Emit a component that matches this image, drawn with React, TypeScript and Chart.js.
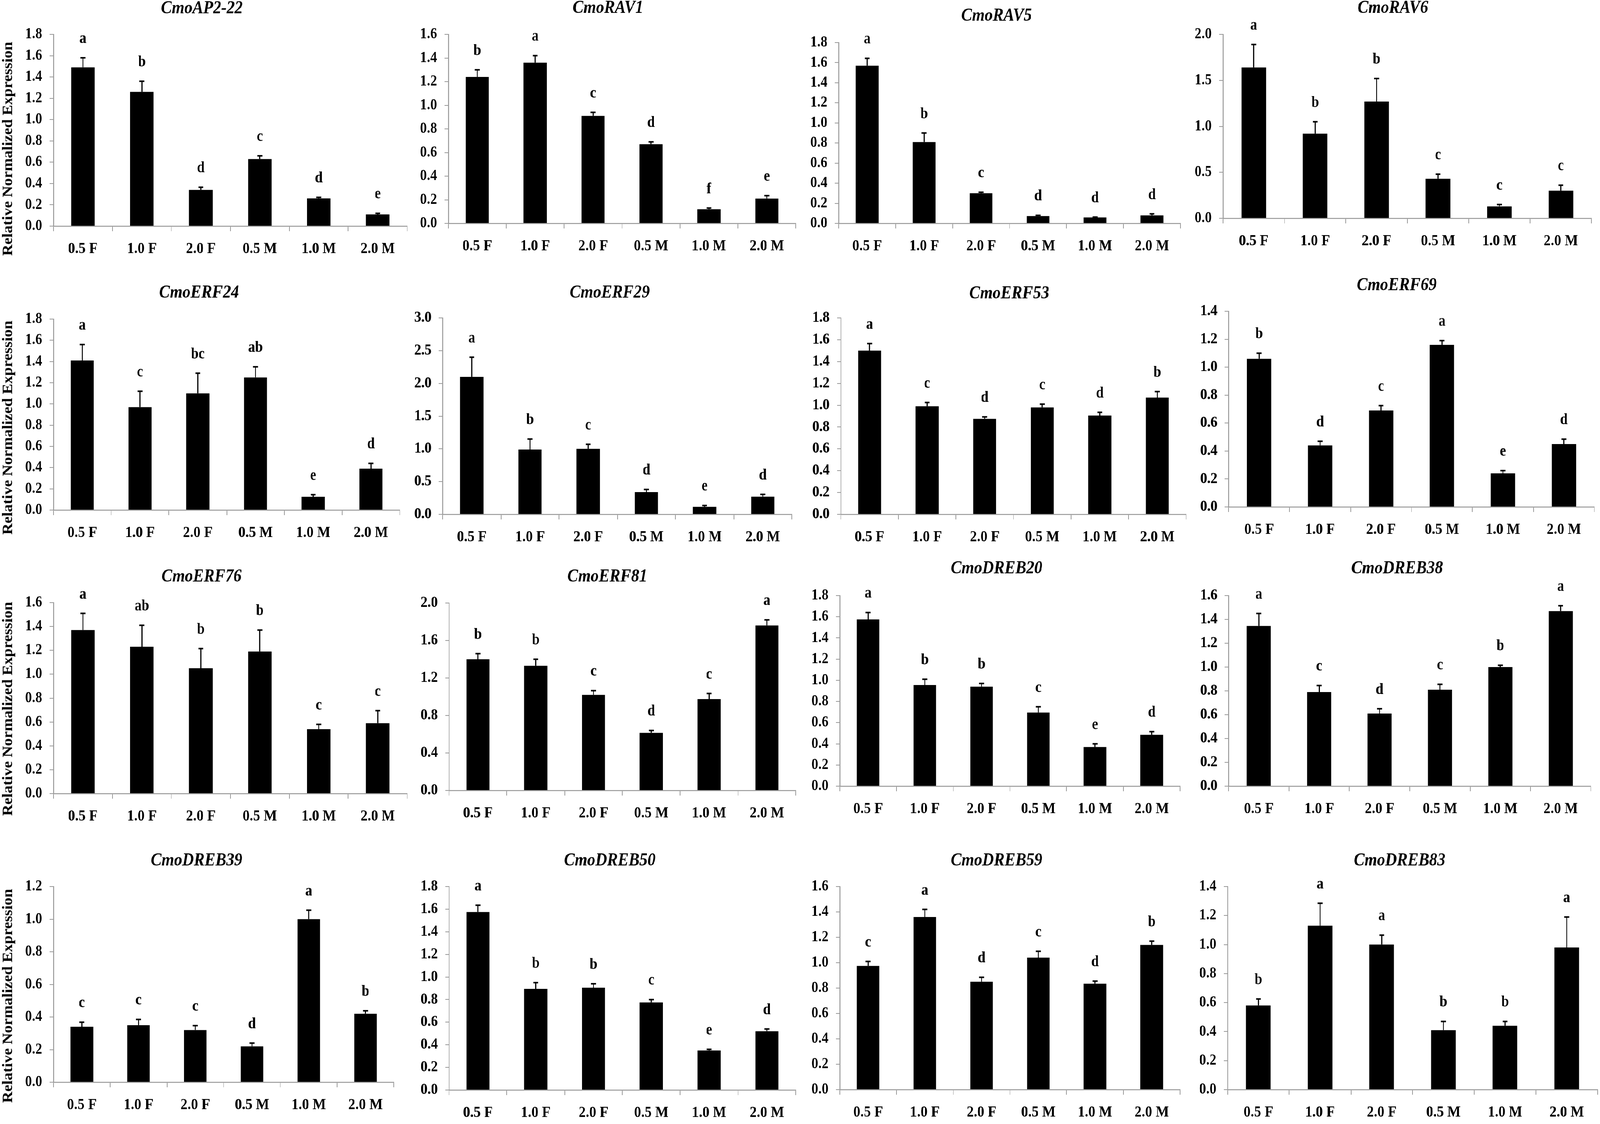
import { useEffect, useRef } from "react";
import { Chart, registerables } from "chart.js";

Chart.register(...registerables);

const PAGE_W = 4550;
const PAGE_H = 2878;
const SERIF = "'Liberation Serif', 'Times New Roman', serif";
const AXIS_GREY = "#999999";

// ---- data ----
const CATEGORIES = ["0.5 F", "1.0 F", "2.0 F", "0.5 M", "1.0 M", "2.0 M"];

const GENES = [
  "CmoAP2-22", "CmoRAV1", "CmoRAV5", "CmoRAV6",
  "CmoERF24", "CmoERF29", "CmoERF53", "CmoERF69",
  "CmoERF76", "CmoERF81", "CmoDREB20", "CmoDREB38",
  "CmoDREB39", "CmoDREB50", "CmoDREB59", "CmoDREB83",
];

const Y_MAX = [1.8, 1.6, 1.8, 2.0, 1.8, 3.0, 1.8, 1.4, 1.6, 2.0, 1.8, 1.6, 1.2, 1.8, 1.6, 1.4];
const Y_STEP = [0.2, 0.2, 0.2, 0.5, 0.2, 0.5, 0.2, 0.2, 0.2, 0.2, 0.2, 0.2, 0.2, 0.2, 0.2, 0.2];

const MEANS = [
  [1.49, 1.26, 0.34, 0.63, 0.26, 0.11],
  [1.24, 1.36, 0.91, 0.67, 0.12, 0.21],
  [1.57, 0.81, 0.3, 0.073, 0.059, 0.08],
  [1.64, 0.92, 1.27, 0.43, 0.13, 0.3],
  [1.41, 0.97, 1.1, 1.25, 0.125, 0.39],
  [2.1, 0.99, 1.0, 0.34, 0.115, 0.27],
  [1.5, 0.99, 0.875, 0.98, 0.905, 1.07],
  [1.06, 0.44, 0.69, 1.16, 0.24, 0.45],
  [1.37, 1.23, 1.05, 1.19, 0.54, 0.59],
  [1.4, 1.33, 1.02, 0.615, 0.975, 1.76],
  [1.575, 0.955, 0.94, 0.695, 0.37, 0.485],
  [1.345, 0.79, 0.61, 0.81, 1.0, 1.47],
  [0.34, 0.35, 0.32, 0.22, 1.0, 0.42],
  [1.575, 0.895, 0.905, 0.775, 0.35, 0.52],
  [0.975, 1.36, 0.85, 1.04, 0.835, 1.14],
  [0.58, 1.13, 1.0, 0.41, 0.44, 0.98],
];

const ERRORS = [
  [0.09, 0.1, 0.025, 0.03, 0.01, 0.01],
  [0.06, 0.06, 0.03, 0.02, 0.01, 0.025],
  [0.073, 0.09, 0.01, 0.007, 0.004, 0.015],
  [0.25, 0.13, 0.25, 0.05, 0.02, 0.06],
  [0.15, 0.15, 0.19, 0.1, 0.02, 0.05],
  [0.3, 0.16, 0.07, 0.04, 0.02, 0.035],
  [0.065, 0.035, 0.018, 0.03, 0.03, 0.055],
  [0.04, 0.03, 0.035, 0.03, 0.02, 0.035],
  [0.14, 0.18, 0.165, 0.18, 0.04, 0.105],
  [0.06, 0.07, 0.045, 0.025, 0.06, 0.06],
  [0.065, 0.055, 0.03, 0.055, 0.03, 0.03],
  [0.105, 0.055, 0.04, 0.045, 0.015, 0.045],
  [0.028, 0.035, 0.027, 0.02, 0.055, 0.018],
  [0.06, 0.055, 0.035, 0.025, 0.01, 0.02],
  [0.035, 0.06, 0.035, 0.05, 0.02, 0.03],
  [0.045, 0.155, 0.065, 0.06, 0.03, 0.21],
];

const LETTERS = [
  ["a", "b", "d", "c", "d", "e"],
  ["b", "a", "c", "d", "f", "e"],
  ["a", "b", "c", "d", "d", "d"],
  ["a", "b", "b", "c", "c", "c"],
  ["a", "c", "bc", "ab", "e", "d"],
  ["a", "b", "c", "d", "e", "d"],
  ["a", "c", "d", "c", "d", "b"],
  ["b", "d", "c", "a", "e", "d"],
  ["a", "ab", "b", "b", "c", "c"],
  ["b", "b", "c", "d", "c", "a"],
  ["a", "b", "b", "c", "e", "d"],
  ["a", "c", "d", "c", "b", "a"],
  ["c", "c", "c", "d", "a", "b"],
  ["a", "b", "b", "c", "e", "d"],
  ["c", "a", "d", "c", "d", "b"],
  ["b", "a", "a", "b", "b", "a"],
];

const Y_LABEL = "Relative Normalized Expression";

// ---- page layout (pixels in the 4550 x 2878 frame) ----
// axis: x of y-axis, top: pixel of y max, base: pixel of 0, right: end of x-axis
const PANELS = [
  { axis: 152, top: 88, base: 579, right: 1158, titleX: 574, titleY: 22, labelY: 638 },
  { axis: 1275, top: 88, base: 572, right: 2263, titleX: 1729, titleY: 21, labelY: 634 },
  { axis: 2385, top: 109, base: 572, right: 3357, titleX: 2834, titleY: 41, labelY: 634 },
  { axis: 3478, top: 88, base: 559, right: 4526, titleX: 3961, titleY: 21, labelY: 620 },
  { axis: 152, top: 817, base: 1306, right: 1137, titleX: 566, titleY: 750, labelY: 1365 },
  { axis: 1259, top: 814, base: 1317, right: 2252, titleX: 1734, titleY: 750, labelY: 1381 },
  { axis: 2391, top: 814, base: 1317, right: 3373, titleX: 2870, titleY: 752, labelY: 1381 },
  { axis: 3494, top: 797, base: 1298, right: 4534, titleX: 3972, titleY: 731, labelY: 1351 },
  { axis: 152, top: 1543, base: 2032, right: 1158, titleX: 573, titleY: 1477, labelY: 2094 },
  { axis: 1277, top: 1544, base: 2024, right: 2263, titleX: 1727, titleY: 1477, labelY: 2085 },
  { axis: 2388, top: 1525, base: 2013, right: 3356, titleX: 2834, titleY: 1456, labelY: 2076 },
  { axis: 3494, top: 1525, base: 2013, right: 4524, titleX: 3973, titleY: 1456, labelY: 2076 },
  { axis: 152, top: 2270, base: 2771, right: 1120, titleX: 559, titleY: 2204, labelY: 2831 },
  { axis: 1277, top: 2270, base: 2791, right: 2263, titleX: 1734, titleY: 2204, labelY: 2851 },
  { axis: 2388, top: 2270, base: 2790, right: 3356, titleX: 2834, titleY: 2204, labelY: 2851 },
  { axis: 3491, top: 2270, base: 2790, right: 4543, titleX: 3980, titleY: 2204, labelY: 2851 },
];
const Y_LABEL_X = 24;
const Y_LABEL_Y = [381, 1095, 1815, 2550];

function Panel({ index }: { index: number }) {
  const canvasRef = useRef<HTMLCanvasElement>(null);
  const g = PANELS[index];
  const box = {
    left: g.axis - 150,
    top: Math.max(0, g.titleY - 40),
    right: Math.min(PAGE_W, g.right + 20),
    bottom: Math.min(PAGE_H, g.labelY + 40),
  };
  const w = box.right - box.left;
  const h = box.bottom - box.top;

  useEffect(() => {
    if (!canvasRef.current) return;
    const ctx = canvasRef.current.getContext("2d");
    if (!ctx) return;

    // error bars, significance letters, gene title and the shared y label
    const annotate = {
      id: "annotate",
      afterDatasetsDraw(chart: Chart) {
        const c = chart.ctx;
        const ys = chart.scales.y;
        const bars = chart.getDatasetMeta(0).data;
        c.save();
        c.strokeStyle = "#000";
        c.fillStyle = "#000";
        c.textAlign = "center";
        bars.forEach((bar: any, j: number) => {
          const yBar = ys.getPixelForValue(MEANS[index][j]);
          const yTop = ys.getPixelForValue(MEANS[index][j] + ERRORS[index][j]);
          c.lineWidth = 3;
          c.beginPath();
          c.moveTo(bar.x, yBar);
          c.lineTo(bar.x, yTop);
          c.stroke();
          c.lineWidth = 4;
          c.beginPath();
          c.moveTo(bar.x - 7, yTop);
          c.lineTo(bar.x + 7, yTop);
          c.stroke();
          c.font = `bold 39px ${SERIF}`;
          c.textBaseline = "alphabetic";
          c.fillText(LETTERS[index][j], bar.x, yTop - 38);
        });
        c.font = `italic bold 46px ${SERIF}`;
        c.textBaseline = "middle";
        c.fillText(GENES[index], g.titleX - box.left, g.titleY - box.top);
        if (index % 4 === 0) {
          const row = Math.floor(index / 4);
          c.translate(Y_LABEL_X - box.left, Y_LABEL_Y[row] - box.top);
          c.rotate(-Math.PI / 2);
          c.font = `bold 40px ${SERIF}`;
          c.fillText(Y_LABEL, 0, 0);
        }
        c.restore();
      },
    };

    const chart = new Chart(ctx, {
      type: "bar",
      data: {
        labels: CATEGORIES,
        datasets: [
          {
            data: MEANS[index],
            backgroundColor: "#000",
            borderWidth: 0,
            barPercentage: 0.4,
            categoryPercentage: 1,
          },
        ],
      },
      options: {
        animation: false,
        responsive: false,
        maintainAspectRatio: false,
        layout: {
          padding: { top: g.top - box.top, right: box.right - g.right, left: 0, bottom: 0 },
        },
        plugins: {
          legend: { display: false },
          tooltip: { enabled: false },
        },
        scales: {
          x: {
            offset: true,
            grid: {
              offset: true,
              drawOnChartArea: false,
              drawTicks: true,
              tickLength: 13,
              color: AXIS_GREY,
              lineWidth: 2,
            },
            border: { color: AXIS_GREY, width: 2.5 },
            ticks: {
              color: "#000",
              padding: 22,
              maxRotation: 0,
              autoSkip: false,
              font: { family: SERIF, size: 40, weight: "bold" },
            },
            afterFit: (scale: any) => {
              scale.height = box.bottom - g.base;
            },
          },
          y: {
            min: 0,
            max: Y_MAX[index],
            grid: {
              drawOnChartArea: false,
              drawTicks: true,
              tickLength: 11,
              color: AXIS_GREY,
              lineWidth: 2,
            },
            border: { color: AXIS_GREY, width: 2.5 },
            ticks: {
              stepSize: Y_STEP[index],
              color: "#000",
              padding: 21,
              font: { family: SERIF, size: 39, weight: "bold" },
              callback: (v: any) => Number(v).toFixed(1),
            },
            afterFit: (scale: any) => {
              scale.width = g.axis - box.left;
            },
          },
        },
      },
      plugins: [annotate],
    });

    return () => {
      chart.destroy();
    };
  }, [index]);

  return (
    <canvas
      ref={canvasRef}
      width={w}
      height={h}
      style={{ position: "absolute", left: box.left, top: box.top, width: w, height: h }}
    />
  );
}

export default function App() {
  // stretch the 4550 x 2878 frame over the viewport the page really gets
  const sx = window.innerWidth / PAGE_W || 1;
  const sy = window.innerHeight / PAGE_H || 1;
  return (
    <div style={{ position: "fixed", inset: 0, overflow: "hidden", background: "#fff" }}>
      <div
        style={{
          position: "absolute",
          left: 0,
          top: 0,
          width: PAGE_W,
          height: PAGE_H,
          transform: `scale(${sx}, ${sy})`,
          transformOrigin: "0 0",
        }}
      >
        {GENES.map((_, i) => (
          <Panel key={i} index={i} />
        ))}
      </div>
    </div>
  );
}
